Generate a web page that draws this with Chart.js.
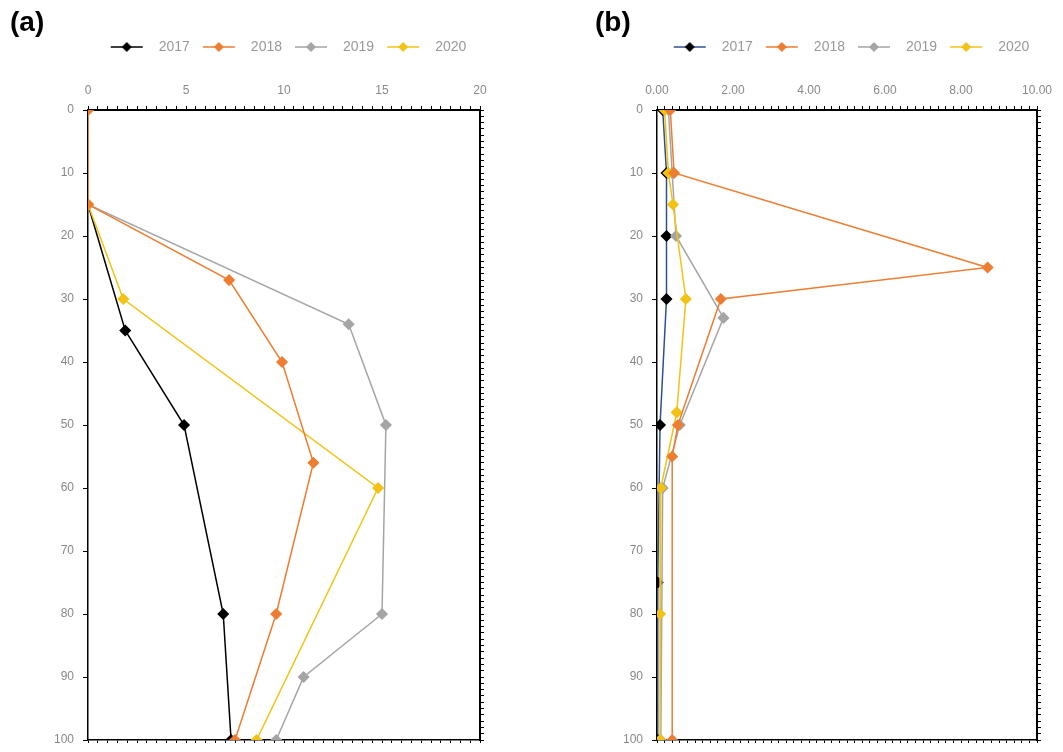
<!DOCTYPE html>
<html>
<head>
<meta charset="utf-8">
<script src="https://cdn.jsdelivr.net/npm/chart.js@4.4.1/dist/chart.umd.min.js"></script>
<style>
    html, body { margin: 0; padding: 0; background: #fff; }
    body { width: 1063px; height: 752px; position: relative; overflow: hidden; }
    .painel { position: absolute; top: 0; height: 752px; }
    #painel-a { left: 0; width: 530px; }
    #painel-b { left: 540px; width: 523px; }
</style>
</head>
<body>
<div class="painel" id="painel-a"><canvas id="grafico-a"></canvas></div>
<div class="painel" id="painel-b"><canvas id="grafico-b"></canvas></div>
<script>
const anos = ['2017', '2018', '2019', '2020'];
// ordem de desenho (menor = por cima)
const ordemDesenho = [4, 1, 3, 2];

// Gráfico (a): profundidade e valor
const profA2017 = [15, 35, 50, 80, 100];
const valA2017  = [0, 1.9, 4.9, 6.9, 7.3];
const profA2018 = [0, 15, 27, 40, 56, 80, 100];
const valA2018  = [0, 0, 7.2, 9.9, 11.5, 9.6, 7.5];
const profA2019 = [0, 15, 34, 50, 80, 90, 100];
const valA2019  = [0, 0, 13.3, 15.2, 15.0, 11.0, 9.6];
const profA2020 = [15, 30, 60, 100];
const valA2020  = [0, 1.8, 14.8, 8.6];

// Gráfico (b)
const profB2017 = [0, 10, 20, 30, 50, 75, 100];
const valB2017  = [0.15, 0.25, 0.25, 0.25, 0.08, 0.02, 0.02];
const profB2018 = [0, 10, 25, 30, 50, 55, 100];
const valB2018  = [0.35, 0.45, 8.7, 1.68, 0.55, 0.4, 0.4];
const profB2019 = [0, 10, 20, 33, 50, 60, 100];
const valB2019  = [0.3, 0.4, 0.5, 1.75, 0.6, 0.15, 0.1];
const profB2020 = [0, 10, 15, 30, 48, 60, 80, 100];
const valB2020  = [0.2, 0.3, 0.42, 0.76, 0.52, 0.1, 0.08, 0.08];

const rotulosA = [0, 5, 10, 15, 20];
const rotulosB = [0, 2, 4, 6, 8, 10];
const rotulosProf = [0, 10, 20, 30, 40, 50, 60, 70, 80, 90, 100];

Chart.defaults.font.family = "'Liberation Sans', Arial, sans-serif";

function pontos(prof, val) {
    return prof.map((p, i) => ({ x: val[i], y: p }));
}

// Ícone da legenda: linha com losango
function iconeLegenda(cor, corMarcador) {
    const c = document.createElement('canvas');
    c.width = 50;
    c.height = 12;
    const g = c.getContext('2d');
    g.strokeStyle = cor;
    g.lineWidth = 1.5;
    g.beginPath();
    g.moveTo(9, 6);
    g.lineTo(41, 6);
    g.stroke();
    g.fillStyle = corMarcador;
    g.beginPath();
    g.moveTo(25, 1);
    g.lineTo(30, 6);
    g.lineTo(25, 11);
    g.lineTo(20, 6);
    g.closePath();
    g.fill();
    return c;
}

function desenharPerfil(idCanvas, titulo, series, eixo, margem) {
    const ctx = document.getElementById(idCanvas).getContext('2d');
    const icones = series.map(s => iconeLegenda(s.cor, s.marcador));

    new Chart(ctx, {
        type: 'scatter',
        data: {
            datasets: series.map((s, i) => ({
                label: anos[i],
                data: pontos(s.prof, s.val),
                order: ordemDesenho[i],
                showLine: true,
                borderColor: s.cor,
                backgroundColor: s.marcador,
                pointBackgroundColor: s.marcador,
                pointBorderColor: s.marcador,
                pointStyle: 'rectRot',
                pointRadius: 5,
                borderWidth: 1.5
            }))
        },
        options: {
            responsive: true,
            maintainAspectRatio: false,
            animation: false,
            layout: { padding: { top: 0, left: margem.esq, right: margem.dir, bottom: 12 } },
            plugins: {
                title: {
                    display: true,
                    text: titulo,
                    align: 'start',
                    color: '#000',
                    font: { size: 28, weight: 'bold', lineHeight: 1 },
                    padding: { top: 9, bottom: -1 }
                },
                legend: {
                    fullSize: false,
                    labels: {
                        usePointStyle: true,
                        pointStyleWidth: 50,
                        boxHeight: 12,
                        padding: 4,
                        color: '#999',
                        font: { size: 14 },
                        sort: (a, b) => a.datasetIndex - b.datasetIndex,
                        generateLabels: (chart) => {
                            const itens = Chart.defaults.plugins.legend.labels.generateLabels(chart);
                            itens.forEach((item) => { item.pointStyle = icones[item.datasetIndex]; });
                            return itens;
                        }
                    }
                },
                tooltip: { enabled: false }
            },
            scales: {
                x: {
                    type: 'linear',
                    position: 'top',
                    min: 0,
                    max: eixo.max,
                    afterFit: (s) => { s.height = 46; },
                    ticks: {
                        stepSize: eixo.passo,
                        autoSkip: false,
                        maxRotation: 0,
                        padding: 8,
                        color: '#888',
                        font: { size: 12 },
                        callback: (v) => {
                            const r = eixo.rotulos.find(t => Math.abs(t - v) < 1e-6);
                            return r === undefined ? '' : r.toFixed(eixo.casas);
                        }
                    },
                    grid: { drawOnChartArea: false, color: '#000', tickLength: 4 },
                    border: { color: '#000', width: 2 }
                },
                x2: {
                    type: 'linear',
                    position: 'bottom',
                    min: 0,
                    max: eixo.max,
                    afterFit: (s) => { s.height = 0; },
                    ticks: { display: false, stepSize: eixo.passo },
                    grid: { drawOnChartArea: false, color: '#000', tickLength: 3 },
                    border: { color: '#000', width: 1.5, dash: [4, 2] }
                },
                y: {
                    type: 'linear',
                    position: 'left',
                    reverse: true,
                    min: 0,
                    max: 100,
                    afterFit: (s) => {
                        s.width = margem.eixoY;
                        s.paddingTop = 0;
                        s.paddingBottom = 0;
                    },
                    ticks: {
                        stepSize: 10,
                        padding: 9,
                        color: '#888',
                        font: { size: 12 },
                        callback: (v) => rotulosProf.includes(v) ? String(v) : ''
                    },
                    grid: { drawOnChartArea: false, color: '#000', tickLength: 5 },
                    border: { color: '#000', width: 1.5, dash: [5, 3] }
                },
                y2: {
                    type: 'linear',
                    position: 'right',
                    reverse: true,
                    min: 0,
                    max: 100,
                    afterFit: (s) => { s.width = 0; },
                    ticks: { display: false, stepSize: 1 },
                    grid: { drawOnChartArea: false, color: '#000', tickLength: 4 },
                    border: { color: '#000', width: 2 }
                }
            }
        }
    });
}

desenharPerfil('grafico-a', '(a)', [
    { prof: profA2017, val: valA2017, cor: '#000000', marcador: '#000000' },
    { prof: profA2018, val: valA2018, cor: '#ED7D31', marcador: '#ED7D31' },
    { prof: profA2019, val: valA2019, cor: '#A5A5A5', marcador: '#A5A5A5' },
    { prof: profA2020, val: valA2020, cor: '#F2C314', marcador: '#F2C314' }
], { max: 20, passo: 0.5, rotulos: rotulosA, casas: 0 }, { esq: 10, eixoY: 78, dir: 50 });

desenharPerfil('grafico-b', '(b)', [
    { prof: profB2017, val: valB2017, cor: '#2F4F8F', marcador: '#000000' },
    { prof: profB2018, val: valB2018, cor: '#ED7D31', marcador: '#ED7D31' },
    { prof: profB2019, val: valB2019, cor: '#A5A5A5', marcador: '#A5A5A5' },
    { prof: profB2020, val: valB2020, cor: '#F2C314', marcador: '#F2C314' }
], { max: 10, passo: 0.2, rotulos: rotulosB, casas: 2 }, { esq: 55, eixoY: 62, dir: 26 });
</script>
</body>
</html>
